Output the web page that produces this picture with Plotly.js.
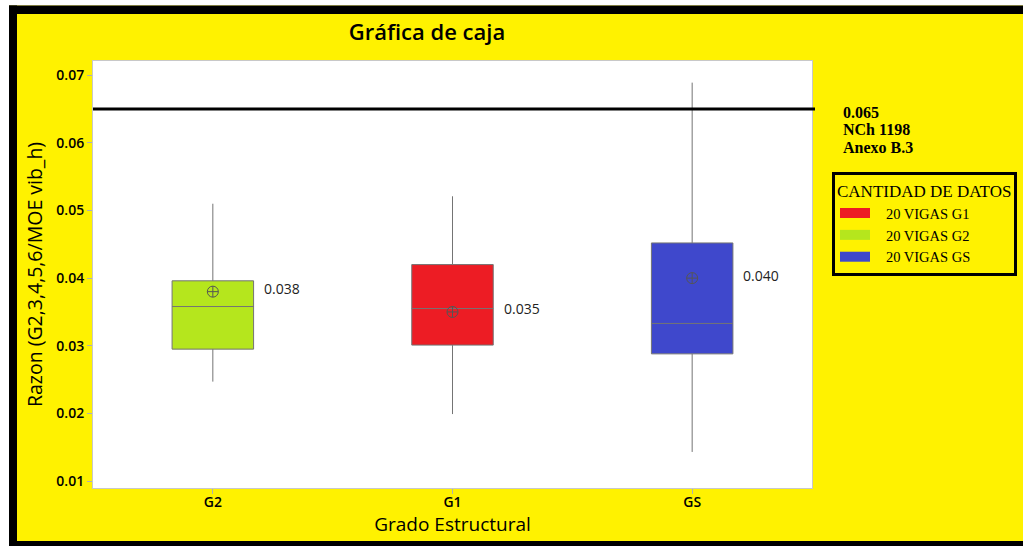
<!DOCTYPE html>
<html>
<head>
<meta charset="utf-8">
<script src="https://cdn.plot.ly/plotly-3.0.1.min.js"></script>
<style>
  html, body { margin: 0; padding: 0; background: #ffffff; overflow: hidden; }
  #chart { width: 1023px; height: 546px; }
</style>
</head>
<body>
<div id="chart"></div>
<script>
// Box-plot summary per structural grade
const grades       = ['G2', 'G1', 'GS'];
const legendOrder  = ['G1', 'G2', 'GS'];
const legendNames  = {G1: '20 VIGAS G1', G2: '20 VIGAS G2', GS: '20 VIGAS GS'};
const boxColors    = {G1: '#ed1c24', G2: '#b5e61d', GS: '#3f48cc'};

const lowerWhisker = {G2: 0.0247, G1: 0.0199, GS: 0.0143};
const q1Values     = {G2: 0.0295, G1: 0.0301, GS: 0.0288};
const medians      = {G2: 0.0358, G1: 0.0355, GS: 0.0333};
const q3Values     = {G2: 0.0396, G1: 0.0420, GS: 0.0452};
const upperWhisker = {G2: 0.0510, G1: 0.0521, GS: 0.0689};
const means        = {G2: 0.038, G1: 0.035, GS: 0.040};

// Reference limit (NCh 1198, Anexo B.3)
const limitValue = 0.065;
const limitLines = ['NCh 1198', 'Anexo B.3'];

const yTicks = [0.01, 0.02, 0.03, 0.04, 0.05, 0.06, 0.07];

const sans  = 'Open Sans, Noto Sans, sans-serif';
const serif = 'Liberation Serif, Times New Roman, serif';
const pad   = '\u00a0\u00a0\u00a0';

// Boxes, one trace per grade; the legend keys are wide colour bars
const traces = [];
legendOrder.forEach(g => {
  traces.push({
    type: 'box',
    name: legendNames[g],
    legendgroup: g,
    showlegend: false,
    x: [g],
    q1: [q1Values[g]],
    median: [medians[g]],
    q3: [q3Values[g]],
    lowerfence: [lowerWhisker[g]],
    upperfence: [upperWhisker[g]],
    width: 0.34,
    whiskerwidth: 0,
    fillcolor: boxColors[g],
    line: {color: '#747474', width: 1},
    hoverinfo: 'skip'
  });
});
legendOrder.forEach(g => {
  traces.push({
    type: 'scatter',
    mode: 'lines',
    name: pad + legendNames[g],
    legendgroup: g,
    x: [null], y: [null],
    line: {color: boxColors[g], width: 10},
    hoverinfo: 'skip'
  });
});

// Mean markers (circle with cross)
traces.push({
  type: 'scatter',
  mode: 'markers',
  x: grades,
  y: grades.map(g => means[g]),
  marker: {symbol: 'circle-cross-open', size: 11, color: '#555555', line: {width: 1}},
  showlegend: false,
  hoverinfo: 'skip'
});

const annotations = grades.map(g => ({
  x: g, xref: 'x', y: means[g], yref: 'y',
  text: means[g].toFixed(3),
  showarrow: false, xanchor: 'left', yanchor: 'middle',
  xshift: 49, yshift: 3,
  font: {family: sans, size: 14, color: '#222222'}
}));

[limitValue.toFixed(3)].concat(limitLines).forEach((t, i) => {
  annotations.push({
    x: 1.04, xref: 'paper', y: limitValue, yref: 'y',
    text: '<b>' + t + '</b>', showarrow: false,
    xanchor: 'left', yanchor: 'middle',
    yshift: -3 - i * 17.5,
    font: {family: serif, size: 16, color: '#000000'}
  });
});

// Frame around the figure (white edge, black border) in paper units
function px2x(px) { return (px - 93) / 719; }
function px2y(py) { return (488 - py) / 427; }
const frame = [
  {x0: px2x(0), x1: px2x(1023), y0: px2y(5.5), y1: px2y(0), c: '#ffffff', l: 'below'},
  {x0: px2x(0), x1: px2x(9), y0: px2y(546), y1: px2y(0), c: '#ffffff', l: 'below'},
  {x0: px2x(9), x1: px2x(1023), y0: px2y(14), y1: px2y(5.5), c: '#000000', l: 'below'},
  {x0: px2x(9), x1: px2x(17), y0: px2y(546), y1: px2y(5.5), c: '#000000', l: 'below'},
  {x0: px2x(9), x1: px2x(1023), y0: px2y(546), y1: px2y(541), c: '#000000', l: 'below'},
  {x0: px2x(1000), x1: px2x(1040), y0: px2y(541), y1: px2y(14), c: '#fff200', l: 'above'}
].map(r => ({
  type: 'rect', xref: 'paper', yref: 'paper', layer: r.l,
  x0: r.x0, x1: r.x1, y0: r.y0, y1: r.y1,
  fillcolor: r.c, line: {width: 0}
}));

const shapes = frame.concat([{
  type: 'line', xref: 'paper', yref: 'y',
  x0: 0, x1: px2x(815), y0: limitValue, y1: limitValue,
  line: {color: '#000000', width: 3}
}]);

const layout = {
  width: 1023, height: 546,
  margin: {l: 93, r: 211, t: 61, b: 58},
  paper_bgcolor: '#fff200',
  plot_bgcolor: '#ffffff',
  boxmode: 'overlay',
  showlegend: true,
  title: {
    text: 'Gráfica de caja',
    font: {family: sans, size: 22, weight: 600, color: '#000000'},
    x: px2x(427), xref: 'paper', xanchor: 'center',
    y: 1 - 32 / 546, yref: 'container', yanchor: 'middle'
  },
  xaxis: {
    type: 'category',
    categoryorder: 'array', categoryarray: grades,
    range: [-0.5, 2.5],
    showgrid: false, zeroline: false,
    showline: true, mirror: true, linecolor: '#c8c8c8', linewidth: 1,
    ticks: 'outside', ticklen: 5, tickcolor: '#b0b0b0',
    ticklabelstandoff: -4,
    tickfont: {family: sans, size: 14, weight: 600, color: '#000000'},
    title: {text: 'Grado Estructural', font: {family: sans, size: 19, color: '#000000'}, standoff: 4},
    automargin: false
  },
  yaxis: {
    range: [0.00897, 0.0721],
    tickvals: yTicks,
    ticktext: yTicks.map(v => v.toFixed(2)),
    showgrid: false, zeroline: false,
    showline: true, mirror: true, linecolor: '#c8c8c8', linewidth: 1,
    ticks: 'outside', ticklen: 5, tickcolor: '#b0b0b0',
    tickfont: {family: sans, size: 14, weight: 600, color: '#000000'},
    title: {text: 'Razon (G2,3,4,5,6/MOE vib_h)', font: {family: sans, size: 19.5, color: '#000000'}, standoff: 8},
    automargin: false
  },
  legend: {
    xref: 'container', yref: 'container',
    x: 832 / 1023, xanchor: 'left',
    y: 1 - 172 / 546, yanchor: 'top',
    bgcolor: '#fff200', bordercolor: '#000000', borderwidth: 3,
    traceorder: 'normal',
    itemwidth: 30,
    font: {family: serif, size: 14.5, color: '#000000'},
    title: {text: 'CANTIDAD DE DATOS', font: {family: serif, size: 17, color: '#000000'}}
  },
  annotations: annotations,
  shapes: shapes
};

Plotly.newPlot('chart', traces, layout, {displayModeBar: false, responsive: false});
</script>
</body>
</html>
